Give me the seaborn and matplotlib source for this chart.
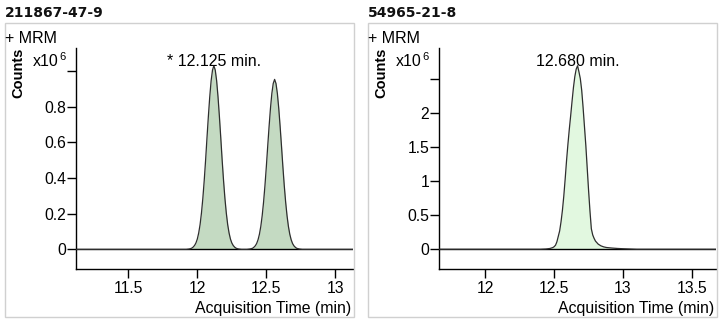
import matplotlib
matplotlib.use("Agg")
import matplotlib.pyplot as plt
import matplotlib.patches as patches
import seaborn as sns
import pandas as pd

# ---------------- data ----------------
titles = ["211867-47-9", "54965-21-8"]
peak_labels = ["* 12.125 min.", "12.680 min."]

left_time = [11.12, 11.90, 11.92, 11.94, 11.95, 11.96, 11.97, 11.98, 11.99,
             12.00, 12.01, 12.02, 12.03, 12.04, 12.05, 12.06, 12.07, 12.08, 12.09,
             12.10, 12.11, 12.12, 12.13, 12.14, 12.15, 12.16, 12.17, 12.18, 12.19,
             12.20, 12.21, 12.22, 12.23, 12.24, 12.25, 12.26, 12.27, 12.28, 12.29,
             12.30, 12.32, 12.34, 12.36, 12.38, 12.39, 12.40, 12.41, 12.42, 12.43,
             12.44, 12.45, 12.46, 12.47, 12.48, 12.49, 12.50, 12.51, 12.52, 12.53,
             12.54, 12.55, 12.56, 12.57, 12.58, 12.59, 12.60, 12.61, 12.62, 12.63,
             12.64, 12.65, 12.66, 12.67, 12.68, 12.69, 12.70, 12.71, 12.72, 12.73,
             12.74, 12.76, 13.13]
left_counts = [0.000, 0.000, 0.000, 0.002, 0.004, 0.007, 0.013, 0.022, 0.036,
               0.058, 0.092, 0.139, 0.204, 0.286, 0.386, 0.500, 0.625, 0.745, 0.855,
               0.945, 1.005, 1.030, 1.005, 0.945, 0.855, 0.745, 0.625, 0.500, 0.386,
               0.286, 0.204, 0.139, 0.092, 0.058, 0.036, 0.022, 0.013, 0.007, 0.004,
               0.002, 0.000, 0.000, 0.000, 0.002, 0.004, 0.006, 0.012, 0.020, 0.033,
               0.054, 0.085, 0.129, 0.189, 0.265, 0.357, 0.463, 0.578, 0.689, 0.791,
               0.874, 0.930, 0.953, 0.930, 0.874, 0.791, 0.689, 0.578, 0.463, 0.357,
               0.265, 0.189, 0.129, 0.085, 0.054, 0.033, 0.020, 0.012, 0.006, 0.004,
               0.002, 0.000, 0.000]

right_time = [11.664, 12.40, 12.44, 12.47, 12.49, 12.50, 12.51, 12.52, 12.53, 12.54,
              12.55, 12.56, 12.57, 12.58, 12.59, 12.60, 12.61, 12.62, 12.63, 12.64,
              12.65, 12.66, 12.67, 12.68, 12.69, 12.70, 12.71, 12.72, 12.73, 12.74,
              12.75, 12.76, 12.77, 12.78, 12.79, 12.80, 12.82, 12.84, 12.86, 12.88,
              12.92, 12.96, 13.00, 13.05, 13.10, 13.675]
right_counts = [0.000, 0.000, 0.004, 0.012, 0.025, 0.038, 0.060, 0.110, 0.190, 0.270,
                0.404, 0.570, 0.780, 1.030, 1.300, 1.540, 1.760, 1.960, 2.170, 2.370,
                2.530, 2.640, 2.690, 2.600, 2.500, 2.330, 2.080, 1.800, 1.520, 1.190,
                0.860, 0.560, 0.300, 0.210, 0.160, 0.120, 0.075, 0.050, 0.035, 0.026,
                0.018, 0.012, 0.008, 0.004, 0.000, 0.000]

left_xticks = [11.5, 12, 12.5, 13]
right_xticks = [12, 12.5, 13, 13.5]
left_yticks = [0, 0.2, 0.4, 0.6, 0.8, 1.0]
left_yticklabels = ["0", "0.2", "0.4", "0.6", "0.8", ""]
right_yticks = [0, 0.5, 1, 1.5, 2, 2.5]
right_yticklabels = ["0", "0.5", "1", "1.5", "2", ""]

# ---------------- style ----------------
sns.set_theme(style="white")
plt.rcParams["font.family"] = ["Liberation Sans", "DejaVu Sans"]

W, H = 723, 323
fig = plt.figure(figsize=(W / 100, H / 100), dpi=100)
fig.patch.set_facecolor("white")


def fx(px):
    return px / W


def fy(py):
    return 1 - py / H


panels = [
    dict(dx=0, title=titles[0], label=peak_labels[0], t=left_time, c=left_counts,
         xlim=(11.121, 13.128), ylim=(-0.110, 1.129), xt=left_xticks,
         yt=left_yticks, ytl=left_yticklabels, fill="#c4dac2"),
    dict(dx=363, title=titles[1], label=peak_labels[1], t=right_time, c=right_counts,
         xlim=(11.664, 13.675), ylim=(-0.289, 2.95), xt=right_xticks,
         yt=right_yticks, ytl=right_yticklabels, fill="#e2f8e0"),
]

for p in panels:
    dx = p["dx"]
    # outer light frame
    fig.add_artist(patches.Rectangle((fx(5 + dx), fy(317.3)), (349.3) / W, (294.3) / H,
                                     transform=fig.transFigure, fill=False,
                                     edgecolor="#d0d0d0", linewidth=1.0))
    ax = fig.add_axes([fx(76 + dx), fy(269), 277 / W, (269 - 48) / H])
    ax.set_facecolor("white")
    df = pd.DataFrame({"time": p["t"], "counts": p["c"]})
    ax.fill_between(df["time"], 0, df["counts"], color=p["fill"], linewidth=0, zorder=1)
    ax.axhline(0, color="black", linewidth=1.0, zorder=2)
    sns.lineplot(data=df, x="time", y="counts", ax=ax, color="#2e2e2e",
                 linewidth=0.9, estimator=None, sort=False, zorder=3)
    ax.set_xlim(*p["xlim"])
    ax.set_ylim(*p["ylim"])
    ax.set_xticks(p["xt"])
    ax.set_xticklabels([f"{v:g}" for v in p["xt"]])
    ax.set_yticks(p["yt"])
    ax.set_yticklabels(p["ytl"])
    ax.set_xlabel("")
    ax.set_ylabel("")
    for s in ["top", "right"]:
        ax.spines[s].set_visible(False)
    for s in ["left", "bottom"]:
        ax.spines[s].set_color("black")
        ax.spines[s].set_linewidth(1.0)
    ax.tick_params(axis="both", which="major", direction="out", length=6.5,
                   width=1.0, color="black", labelsize=11.3, labelcolor="black",
                   left=True, bottom=True)
    ax.tick_params(axis="y", pad=0.5)
    ax.tick_params(axis="x", pad=2)

    # peak label at the apex
    imax = max(range(len(p["c"])), key=lambda i: p["c"][i])
    ax.text(p["t"][imax], p["c"][imax], p["label"], ha="center", va="baseline",
            fontsize=11.5, color="black", zorder=4)

    # texts
    fig.text(fx(5 + dx), fy(16.7), p["title"], fontsize=10, fontweight="bold",
             family=["DejaVu Sans"], color="#111111", ha="left", va="baseline")
    fig.text(fx(5 + dx), fy(42.7), "+ MRM", fontsize=11.5, color="black",
             ha="left", va="baseline")
    fig.text(fx(18 + dx), fy(73), "Counts", fontsize=10.5, fontweight="bold",
             rotation=90, ha="center", va="center", color="black")
    fig.text(fx(33 + dx), fy(66.5), "x10", fontsize=11.5, color="black",
             ha="left", va="baseline")
    fig.text(fx(59.3 + dx), fy(59.8), "6", fontsize=8, color="black",
             ha="left", va="baseline")
    fig.text(fx(351 + dx), fy(313.3), "Acquisition Time (min)", fontsize=11.4,
             color="black", ha="right", va="baseline")

fig.savefig("out.png", dpi=100, facecolor="white")
